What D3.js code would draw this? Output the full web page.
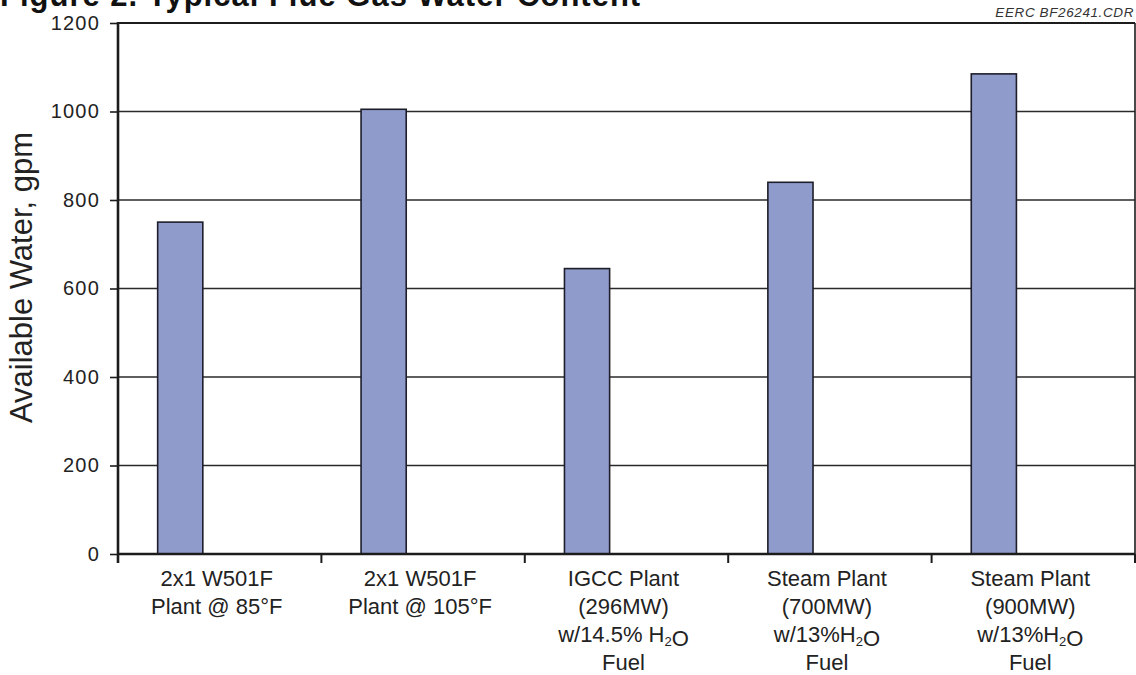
<!DOCTYPE html>
<html>
<head>
<meta charset="utf-8">
<script src="https://cdn.jsdelivr.net/npm/d3@7"></script>
<style>
  html, body { margin: 0; padding: 0; background: #fff; }
  svg { display: block; font-family: "Liberation Sans", Arial, Helvetica, sans-serif; }
</style>
</head>
<body>
<svg id="chart" width="1136" height="675"></svg>
<script>
// Plant configurations (category keys)
const categories = ["W501F-85", "W501F-105", "IGCC-296", "Steam-700", "Steam-900"];

// Multi-line category labels; {x} marks a subscript
const categoryLabels = [
  ["2x1 W501F", "Plant @ 85°F"],
  ["2x1 W501F", "Plant @ 105°F"],
  ["IGCC Plant", "(296MW)", "w/14.5% H{2}O", "Fuel"],
  ["Steam Plant", "(700MW)", "w/13%H{2}O", "Fuel"],
  ["Steam Plant", "(900MW)", "w/13%H{2}O", "Fuel"]
];

// Available water, gpm
const availableWater = [750, 1005, 645, 840, 1085];

const yTicks = [0, 200, 400, 600, 800, 1000, 1200];

const title = "Figure 2. Typical Flue Gas Water Content";
const drawingId = "EERC BF26241.CDR";
const yTitle = "Available Water, gpm";

const svg = d3.select("#chart");
const plotLeft = 118, plotRight = 1135, plotTop = 23, plotBottom = 554;

const x = d3.scaleBand().domain(categories).range([plotLeft, plotRight]).padding(0);
const y = d3.scaleLinear().domain([0, 1200]).range([plotBottom, plotTop]);

const ink = "#1c1c1c";

// Title (runs off the top edge of the page)
svg.append("text")
  .attr("x", 0).attr("y", 6)
  .attr("font-size", 31).attr("font-weight", "bold")
  .attr("letter-spacing", 1.0)
  .attr("fill", "#111")
  .text(title);

svg.append("text")
  .attr("x", 1134).attr("y", 17)
  .attr("text-anchor", "end")
  .attr("font-size", 13.5).attr("font-style", "italic")
  .attr("letter-spacing", 0.6)
  .attr("fill", "#333")
  .text(drawingId);

// Horizontal gridlines
svg.append("g").selectAll("line")
  .data(yTicks.filter(d => d > 0 && d < 1200))
  .join("line")
  .attr("x1", plotLeft).attr("x2", plotRight)
  .attr("y1", d => y(d)).attr("y2", d => y(d))
  .attr("stroke", "#2a2a2a").attr("stroke-width", 1.4);

// Frame: top and right edges
svg.append("line")
  .attr("x1", plotLeft).attr("x2", plotRight)
  .attr("y1", y(1200)).attr("y2", y(1200))
  .attr("stroke", ink).attr("stroke-width", 2);
svg.append("line")
  .attr("x1", plotRight).attr("x2", plotRight)
  .attr("y1", y(1200)).attr("y2", y(0))
  .attr("stroke", ink).attr("stroke-width", 1.6);

// Bars
const bw = x.bandwidth();
svg.append("g").selectAll("rect")
  .data(categories)
  .join("rect")
  .attr("x", (c) => x(c) + bw * 0.195)
  .attr("width", bw * 0.222)
  .attr("y", (c, i) => y(availableWater[i]))
  .attr("height", (c, i) => y(0) - y(availableWater[i]))
  .attr("fill", "#8f9bca")
  .attr("stroke", "#1e1e2a").attr("stroke-width", 1.6);

// Y axis
const yAxis = svg.append("g")
  .attr("transform", `translate(${plotLeft},0)`)
  .call(d3.axisLeft(y).tickValues(yTicks).tickFormat(d3.format("d"))
    .tickSize(8).tickSizeOuter(0).tickPadding(10));
yAxis.select(".domain").remove();
yAxis.selectAll(".tick line").attr("stroke", ink).attr("stroke-width", 1.6);
yAxis.selectAll(".tick text")
  .attr("font-size", 20).attr("letter-spacing", 1.2)
  .attr("fill", "#222").attr("font-family", "Liberation Sans, Arial, sans-serif");

svg.append("line")
  .attr("x1", plotLeft).attr("x2", plotLeft)
  .attr("y1", y(1200) - 1).attr("y2", y(0) + 9)
  .attr("stroke", ink).attr("stroke-width", 2.6);

// X axis baseline with category separator ticks
svg.append("line")
  .attr("x1", plotLeft).attr("x2", plotRight)
  .attr("y1", y(0)).attr("y2", y(0))
  .attr("stroke", ink).attr("stroke-width", 2.6);
const sepPos = categories.map(c => x(c)).concat([plotRight]);
svg.append("g").selectAll("line")
  .data(sepPos)
  .join("line")
  .attr("x1", d => d).attr("x2", d => d)
  .attr("y1", y(0)).attr("y2", y(0) + 9)
  .attr("stroke", ink).attr("stroke-width", 2);

// Category labels
const labelG = svg.append("g")
  .attr("font-size", 22).attr("fill", "#222").attr("text-anchor", "middle");
categories.forEach((c, i) => {
  const cx = x(c) + bw / 2 - 3;
  categoryLabels[i].forEach((line, j) => {
    const t = labelG.append("text")
      .attr("x", cx).attr("y", 586 + j * 28);
    const parts = line.split(/(\{[^}]+\})/).filter(s => s.length);
    parts.forEach(p => {
      if (p.startsWith("{")) {
        t.append("tspan").attr("font-size", 13).attr("dy", 4).text(p.slice(1, -1));
        t.append("tspan").attr("dy", -4).text("");
      } else {
        t.append("tspan").text(p);
      }
    });
  });
});

// Y axis title
svg.append("text")
  .attr("transform", `translate(32,${(123 + 432) / 2}) rotate(-90)`)
  .attr("text-anchor", "middle")
  .attr("font-size", 31).attr("fill", "#222")
  .text(yTitle);
</script>
</body>
</html>
